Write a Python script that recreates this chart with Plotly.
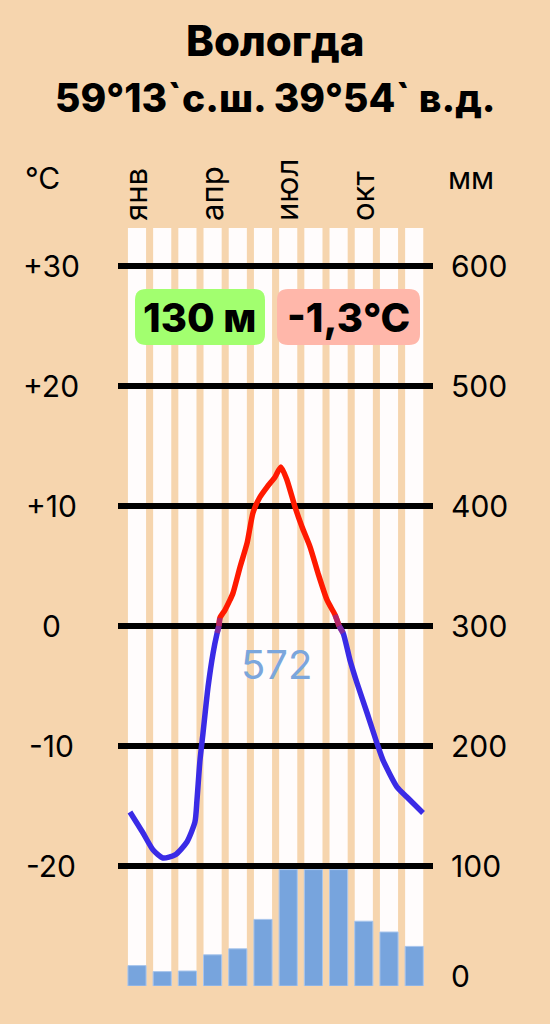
import plotly.graph_objects as go

# ---------------- data ----------------
months = list(range(1, 13))
month_tick_pos = [1, 4, 7, 10]
month_tick_text = ["янв", "апр", "июл", "окт"]

precip_mm = [17, 12, 12.5, 26, 31, 55.5, 97, 97, 97, 54, 45, 33]

# temperature curve (month position, °C)
temp_x = [0.72, 1.24, 1.64, 2.03, 2.51, 2.98, 3.30, 3.38, 3.50, 3.62, 3.82, 4.02, 4.18,
          4.25,
          4.29, 4.49, 4.69, 4.81, 5.09, 5.37, 5.60, 5.88, 6.16, 6.48, 6.71, 6.95, 7.27,
          7.55, 7.87, 8.18, 8.54, 8.86,
          9.02,
          9.18, 9.45, 9.73, 10.13, 10.52, 10.76, 11.32, 11.71, 12.35]
temp_c = [-15.5, -17.25, -18.67, -19.33, -19.08, -18.0, -16.33, -14.5, -11.17, -8.92, -5.08, -2.25, -0.58,
          0.0,
          0.67, 1.33, 2.17, 2.75, 4.92, 6.92, 9.42, 10.75, 11.58, 12.42, 13.25, 12.17, 9.92,
          8.25, 6.58, 4.42, 2.17, 0.92,
          0.0,
          -0.58, -2.83, -4.75, -7.25, -9.75, -11.17, -13.42, -14.25, -15.58]

temp_ticks = [30, 20, 10, 0, -10, -20]
temp_tick_text = ["+30", "+20", "+10", "0", "-10", "-20"]
precip_ticks = [600, 500, 400, 300, 200, 100, 0]
precip_tick_text = ["600", "500", "400", "300", "200", "100", "0"]

title_line1 = "Вологда"
title_line2 = "59°13`с.ш. 39°54` в.д."
elevation_text = "130 м"
mean_temp_text = "-1,3°C"
total_precip_text = "572"
temp_unit = "°C"
precip_unit = "мм"

# ---------------- styles ----------------
W, H = 550, 1024
PL, PR, PT, PB = 118, 433, 228, 986          # plot area in pixels
BG = "#F6D5AE"
STRIPE = "#FFFCFC"
BAR = "#77A4DD"
BLUE = "#3A2BE6"
RED = "#FF1A00"
PURPLE = "#9A2A8A"
FONT = "Inter"

def px(x):
    return (x - PL) / (PR - PL)

def py(y):
    return (PB - y) / (PB - PT)

# axis ranges so that: 0°C at y=626px, 10°C = 120px ; 0 mm at 986, 100 mm = 120px
t_top = (626 - PT) / 12.0
t_bot = (626 - PB) / 12.0
p_top = (PB - PT) / 1.2
x_lo = 1 + (PL - 137) / 25.2
x_hi = 1 + (PR - 137) / 25.2

fig = go.Figure()

# precipitation bars
fig.add_trace(go.Bar(x=months, y=precip_mm, yaxis="y2", width=0.72,
                     marker=dict(color=BAR, line=dict(color="#A8C5EC", width=1)),
                     hoverinfo="skip", showlegend=False))

# temperature curve split at the zero crossings
zeros = [i for i, v in enumerate(temp_c) if v == 0.0]
segs = [(0, zeros[0] + 1, BLUE), (zeros[0], zeros[1] + 1, RED), (zeros[1], len(temp_c), BLUE)]
for a, b, col in segs:
    fig.add_trace(go.Scatter(x=temp_x[a:b], y=temp_c[a:b], mode="lines",
                             line=dict(color=col, width=5.5, shape="spline", smoothing=0.6),
                             hoverinfo="skip", showlegend=False))
# purple blend right at the two crossings
for z in zeros:
    fig.add_trace(go.Scatter(x=temp_x[z - 1:z + 2], y=temp_c[z - 1:z + 2], mode="lines",
                             line=dict(color=PURPLE, width=5.5, shape="spline", smoothing=0.6),
                             opacity=0.75, hoverinfo="skip", showlegend=False))

shapes = []
# white month stripes
for m in months:
    shapes.append(dict(type="rect", xref="x", yref="paper", x0=m - 0.36, x1=m + 0.36,
                       y0=0, y1=1, fillcolor=STRIPE, line=dict(width=0), layer="below"))

def rounded_box(x0, y0, x1, y1, r, color):
    X0, X1 = px(x0), px(x1)
    Y0, Y1 = py(y0), py(y1)
    rx = r / (PR - PL)
    ry = r / (PB - PT)
    path = (f"M {X0+rx},{Y0} L {X1-rx},{Y0} Q {X1},{Y0} {X1},{Y0-ry} "
            f"L {X1},{Y1+ry} Q {X1},{Y1} {X1-rx},{Y1} L {X0+rx},{Y1} "
            f"Q {X0},{Y1} {X0},{Y1+ry} L {X0},{Y0-ry} Q {X0},{Y0} {X0+rx},{Y0} Z")
    return dict(type="path", xref="paper", yref="paper", path=path,
                fillcolor=color, line=dict(width=0), layer="above")

shapes.append(rounded_box(135, 289, 265, 345, 11, "#A2FF6F"))
shapes.append(rounded_box(277, 289, 420, 345, 11, "#FFB7AA"))

ann = []
for v, t in zip(temp_ticks, temp_tick_text):
    ann.append(dict(x=px(51), xref="paper", y=v, yref="y", text=t, showarrow=False,
                    xanchor="center", yanchor="middle", font=dict(size=30, color="black", family=FONT)))
for v, t in zip(precip_ticks, precip_tick_text):
    ann.append(dict(x=px(449), xref="paper", y=v, yref="y2", text=t, showarrow=False,
                    xanchor="left", yanchor="middle", yshift=10 if v == 0 else 0,
                    font=dict(size=30, color="black", family=FONT)))

ann.append(dict(x=px(42), y=py(178), xref="paper", yref="paper", text=temp_unit, showarrow=False,
                xanchor="center", yanchor="middle", font=dict(size=30, color="black", family=FONT)))
ann.append(dict(x=px(471), y=py(178), xref="paper", yref="paper", text=precip_unit, showarrow=False,
                xanchor="center", yanchor="middle", font=dict(size=30, color="black", family=FONT)))

ann.append(dict(x=px(275), y=py(40), xref="paper", yref="paper", text=title_line1, showarrow=False,
                xanchor="center", yanchor="middle",
                font=dict(size=42, color="black", family=FONT, weight=800)))
ann.append(dict(x=px(275), y=py(98), xref="paper", yref="paper", text=title_line2, showarrow=False,
                xanchor="center", yanchor="middle",
                font=dict(size=39, color="black", family=FONT, weight=800)))

ann.append(dict(x=px(200), y=py(317), xref="paper", yref="paper", text=elevation_text, showarrow=False,
                xanchor="center", yanchor="middle",
                font=dict(size=40, color="black", family=FONT, weight=800)))
ann.append(dict(x=px(348), y=py(317), xref="paper", yref="paper", text=mean_temp_text, showarrow=False,
                xanchor="center", yanchor="middle",
                font=dict(size=40, color="black", family=FONT, weight=800)))
ann.append(dict(x=px(276), y=py(664), xref="paper", yref="paper", text=total_precip_text, showarrow=False,
                xanchor="center", yanchor="middle",
                font=dict(size=40, color="#7BA6DC", family=FONT)))

fig.update_layout(
    width=W, height=H, autosize=False,
    margin=dict(l=PL, r=W - PR, t=PT, b=H - PB, pad=0),
    paper_bgcolor=BG, plot_bgcolor=BG,
    barmode="overlay", showlegend=False,
    shapes=shapes, annotations=ann,
    xaxis=dict(range=[x_lo, x_hi], side="top", tickmode="array", tickvals=month_tick_pos,
               ticktext=month_tick_text, tickangle=-90, ticks="", showgrid=False,
               ticklabelstandoff=6,
               zeroline=False, showline=False, tickfont=dict(size=31, color="black", family=FONT),
               fixedrange=True),
    yaxis=dict(range=[t_bot, t_top], tickmode="array", tickvals=temp_ticks, showticklabels=False,
               ticks="", showgrid=True, gridcolor="black", gridwidth=6, zeroline=True,
               zerolinecolor="black", zerolinewidth=6, showline=False, fixedrange=True),
    yaxis2=dict(range=[0, p_top], overlaying="y", side="right", showgrid=False,
                showticklabels=False, ticks="", zeroline=False, showline=False, fixedrange=True),
)

fig.write_html("out.html", config={"displayModeBar": False},
               post_script="document.body.style.margin='0';document.body.style.background='%s';" % BG)
